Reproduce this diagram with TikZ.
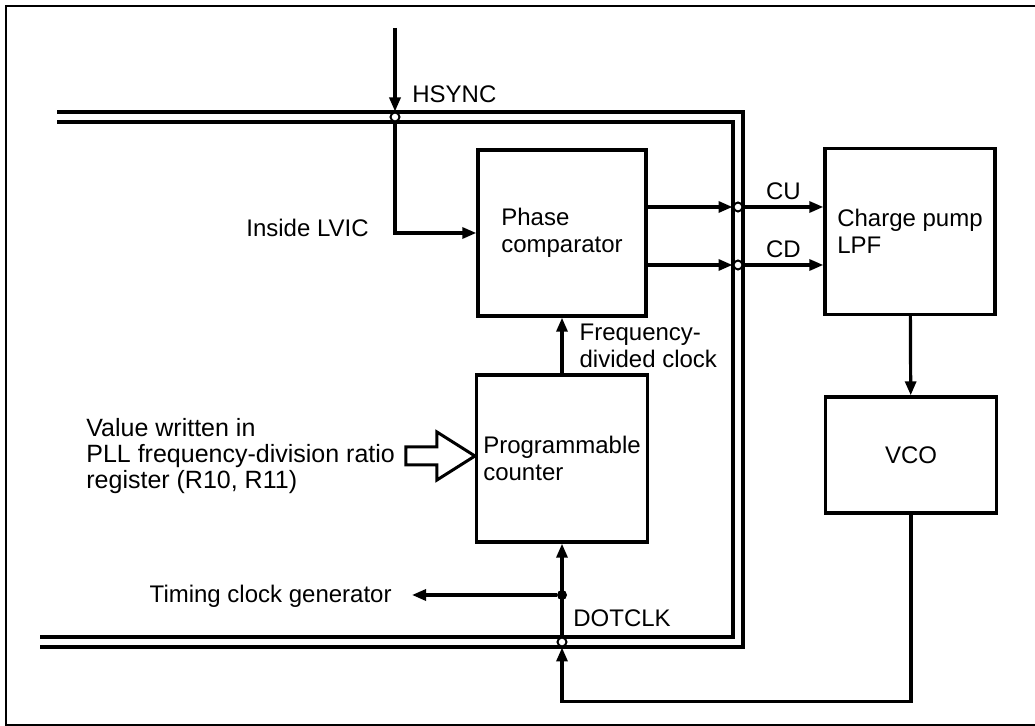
\documentclass[tikz,border=0pt]{standalone}
\usepackage{fontspec}
\setmainfont{Liberation Sans}
\usetikzlibrary{arrows.meta,positioning,calc}

\tikzset{
  block/.style={draw, line width=1.7pt, minimum width=84pt, minimum height=83pt,
        align=left, font=\fontsize{12}{13.5}\selectfont},
  pin/.style={circle, draw, fill=white, line width=1pt, inner sep=0pt, minimum size=4.5pt},
  junction/.style={circle, fill, inner sep=0pt, minimum size=5pt},
  lbl/.style={inner sep=0pt, align=left, font=\fontsize{12}{13.5}\selectfont},
  wire/.style={line width=1.6pt},
  lvic/.style={line width=1.7pt, double, double distance=3.3pt},
}

\begin{document}
\begin{tikzpicture}[x=0.5pt, y=-0.5pt, >={Triangle[length=7pt,width=5.5pt]}]
  \useasboundingbox (0,0) rectangle (1035,726);
  \fill[white] (0,0) rectangle (1035,726);
  \draw[line width=0.8pt] (1035,6) -- (6,6) -- (6,725) -- (1035,725);
  % LVIC boundary
  \draw[lvic] (57,117) -| (738,642) -- (40,642);

  \node[block] (phase) at (562,233) {Phase\\comparator};
  \node[block, minimum height=83.5pt] (counter) at (562,458.5) {Programmable\\counter};
  \node[block, minimum width=85pt] (charge) at (910,231.5) {Charge pump\\LPF};
  \node[block, minimum width=85.5pt, minimum height=58pt] (vco) at (911,455) {VCO};

  \node[pin] (hs) at (395,117) {};
  \node[pin] (cu) at (738,207) {};
  \node[pin] (cd) at (738,265) {};
  \node[pin] (dclk) at (562,642) {};
  \node[junction] (split) at (562,595) {};
  \coordinate (hsin) at (395,28);

  \node[lbl, anchor=base west] (hsynclbl) at (412,103) {HSYNC};
  \node[lbl, anchor=base west] (inside) at (246,237) {Inside LVIC};
  \node[lbl, anchor=base west] (dotlbl) at (573,627) {DOTCLK};
  \node[lbl, anchor=base east, inner xsep=10pt] (tcg) at (412,603) {Timing clock generator};
  \node[lbl, anchor=west, font=\fontsize{12.5}{13}\selectfont] (reg) at (86,456)
        {Value written in\\PLL frequency-division ratio\\register (R10, R11)};

  % hollow arrow into the counter
  \coordinate (tip) at (counter.west |- reg.east);
  \draw[line width=1.5pt, fill=white] (tip) -- ++(-38,-24) -- ++(0,15) -- ++(-31,0)
        -- ++(0,18) -- ++(31,0) -- ++(0,15) -- cycle;

  \draw[wire, ->] (hsin) -- (hs);
  \draw[wire, ->] (hs) |- (phase.west);
  \draw[wire, ->] (phase.east |- cu) -- (cu);
  \draw[wire, ->] (phase.east |- cd) -- (cd);
  \draw[wire, ->] (cu) -- node[midway, above=3pt, lbl] {CU} (charge.west |- cu);
  \draw[wire, ->] (cd) -- node[midway, above=3pt, lbl] {CD} (charge.west |- cd);
  \draw[wire, ->] (charge) -- (vco);
  \draw[wire, ->] (vco.south) -- ++(0,187) -| (dclk);
  \draw[wire, ->] (dclk) -- (counter.south);
  \draw[wire, ->] (split) -- (tcg.east |- split);
  \draw[wire, ->] (counter) -- node[midway, right=8pt, lbl] {Frequency-\\divided clock} (phase);
\end{tikzpicture}
\end{document}
